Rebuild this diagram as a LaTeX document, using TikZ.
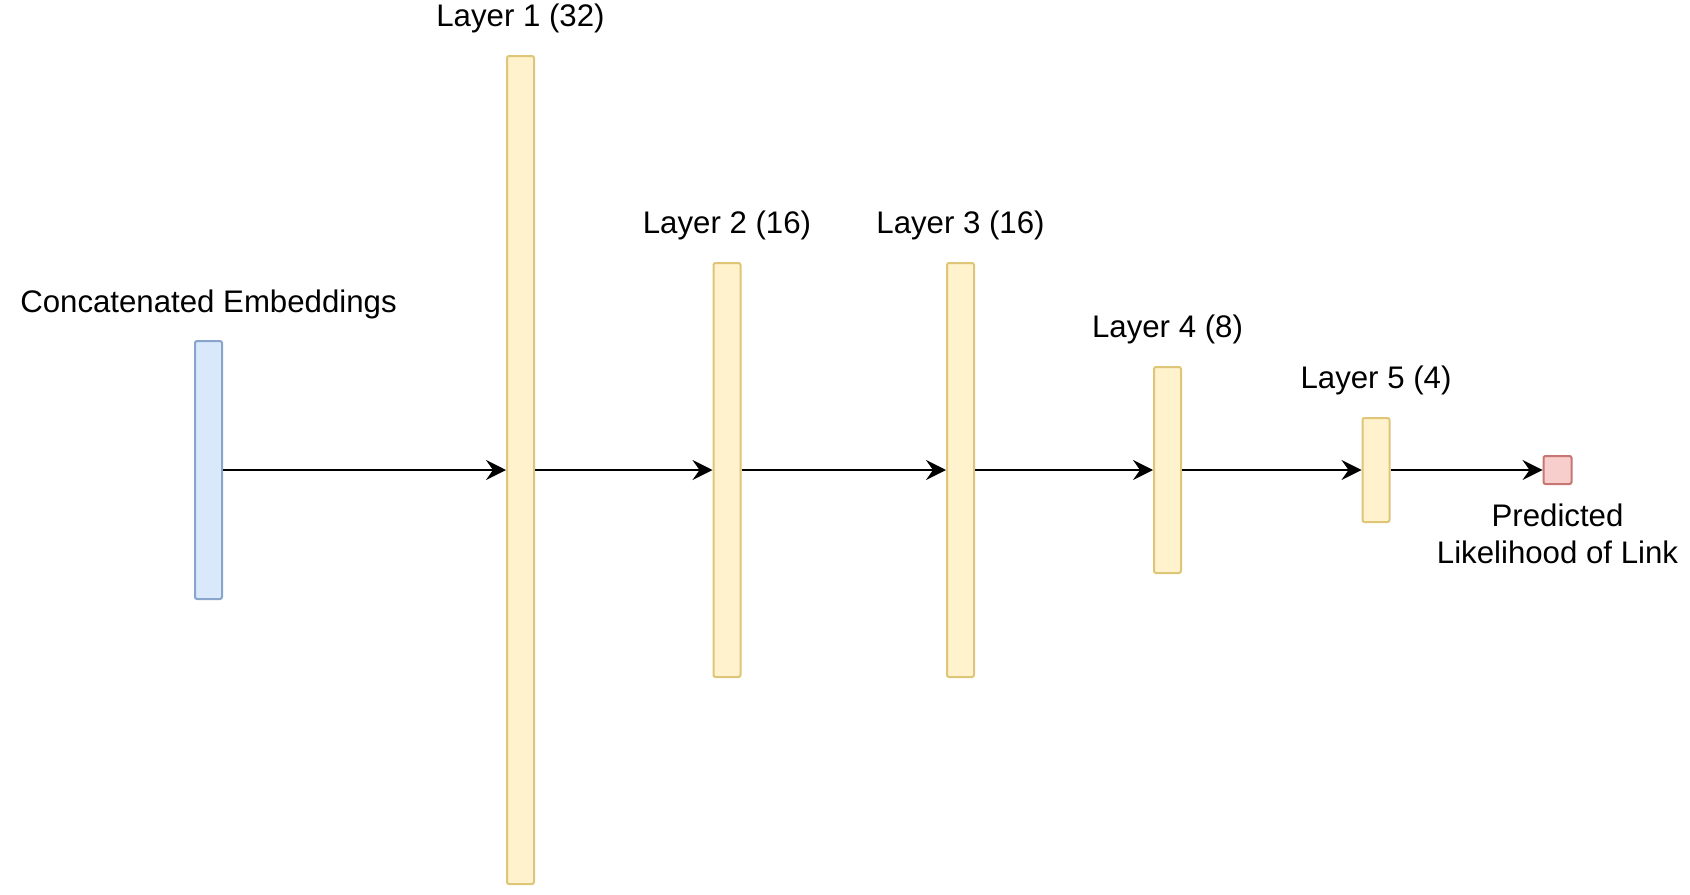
\documentclass[tikz,border=0pt]{standalone}
\usepackage{fontspec}
\setmainfont{Liberation Sans}
\usetikzlibrary{positioning,arrows.meta}
\definecolor{embfill}{HTML}{DAE8FC}
\definecolor{embdraw}{HTML}{6C8EBF}
\definecolor{layfill}{HTML}{FFF2CC}
\definecolor{laydraw}{HTML}{D6B656}
\definecolor{outfill}{HTML}{F8CECC}
\definecolor{outdraw}{HTML}{B85450}
\tikzset{
	bar/.style={draw=laydraw!80, fill=layfill, line width=1pt, minimum width=13.5pt, inner sep=0pt, rounded corners=1pt},
	lbl/.style={inner sep=0pt, font=\fontsize{15.6}{18.5}\selectfont, text height=11.3pt, text depth=3.6pt},
	conn/.style={-{Stealth[length=10pt,width=10pt,inset=3.5pt]}, line width=1pt}
}

\begin{document}
\begin{tikzpicture}[x=0.5pt, y=-0.5pt]
			%%%%% START %%%%%
			\useasboundingbox (0, 0) rectangle (1690, 894);
			
			\node[bar, draw=embdraw!80, fill=embfill, minimum height=129pt] (emb) at (208.5, 470) {};
			\node[bar, minimum height=414pt] (l1) at (520.5, 470) {};
			\node[bar, minimum height=207pt] (l2) at (727, 470) {};
			\node[bar, minimum height=207pt] (l3) at (960.5, 470) {};
			\node[bar, minimum height=103pt] (l4) at (1167.5, 470) {};
			\node[bar, minimum height=52pt] (l5) at (1376, 470) {};
			\node[bar, draw=outdraw!80, fill=outfill, minimum width=14pt, minimum height=14pt] (out) at (1557.5, 470) {};
			
			\node[lbl, above=10pt of emb] (embtxt) {Concatenated Embeddings};
			\node[lbl, above=10.4pt of l1] (l1txt) {Layer 1 (32)};
			\node[lbl, above=10.4pt of l2] (l2txt) {Layer 2 (16)};
			\node[lbl, above=10.4pt of l3] (l3txt) {Layer 3 (16)};
			\node[lbl, above=10.4pt of l4] (l4txt) {Layer 4 (8)};
			\node[lbl, above=10.4pt of l5] (l5txt) {Layer 5 (4)};
			\node[inner sep=0pt, font=\fontsize{15.6}{18.5}\selectfont, align=center, below=9.3pt of out] (outtxt) {Predicted\\Likelihood of Link};
			
			\draw[conn] (emb.east) -- (l1.west);
			\draw[conn] (l1.east) -- (l2.west);
			\draw[conn] (l2.east) -- (l3.west);
			\draw[conn] (l3.east) -- (l4.west);
			\draw[conn] (l4.east) -- (l5.west);
			\draw[conn] (l5.east) -- (out.west);
			
			%%%%% END %%%%%
\end{tikzpicture}
\end{document}
